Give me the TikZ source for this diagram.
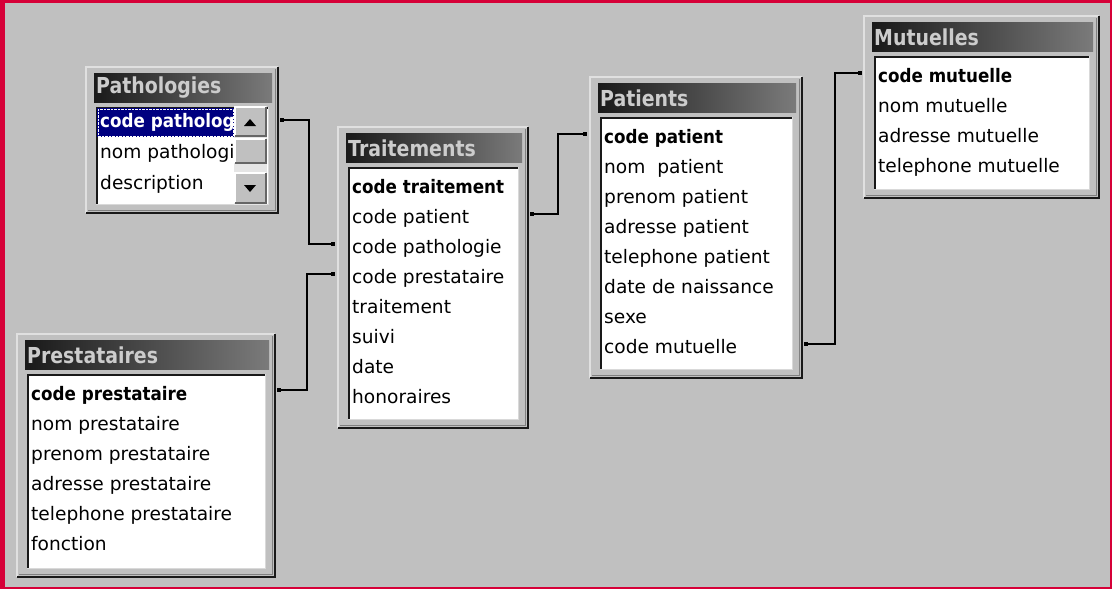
\documentclass[tikz,border=0pt]{standalone}
\usepackage{fontspec}
\setmainfont{DejaVu Sans}
\newfontfamily\keyfont{DejaVu Sans}[FakeStretch=0.9]
\newfontfamily\titlefont{DejaVu Sans}[FakeStretch=0.86]
\usepackage{tikz}
\usetikzlibrary{calc,arrows.meta}
\definecolor{winface}{RGB}{192,192,192}
\definecolor{winred}{RGB}{214,0,56}
\definecolor{winnavy}{RGB}{0,0,128}
\definecolor{titlegrey}{RGB}{204,204,204}
\tikzset{
	field/.style={anchor=west, inner sep=0pt, font=\fontsize{18.6}{22}\selectfont, text height=14pt, text depth=4.5pt},
	keyfield/.style={field, font=\fontsize{18.6}{22}\selectfont\keyfont\bfseries},
	tabletitle/.style={anchor=west, inner sep=0pt, text=titlegrey, font=\fontsize{22}{24}\selectfont\titlefont\bfseries},
	link/.style={line width=1.5pt, {Square[length=4pt,width=4pt]}-{Square[length=4pt,width=4pt]}},
	winbutton/.style={fill=winface},
}
\def\dbtable(#1)(#2,#3)(#4,#5)#6{%
	\fill[winface] (#2,#3) rectangle (#4,#5);
	\draw[line width=2pt, white!88!black] (#2,#5) -- (#2,#3) -- (#4,#3);
	\draw[line width=1pt, black!50] ($(#4,#3)+(-2.5,2)$) -- ($(#4,#5)+(-2.5,-2.5)$) -- ($(#2,#5)+(2,-2.5)$);
	\draw[line width=2pt, black!90] (#4,#3) -- (#4,#5) -- (#2,#5);
	\shade[left color=black!90, right color=black!52] ($(#2,#3)+(8,6)$) rectangle ($(#4,#3)+(-6,35)$);
	\node[tabletitle] (#1) at ($(#2,#3)+(10,21)$) {#6};
	\fill[white] ($(#2,#3)+(10,40)$) rectangle ($(#4,#5)+(-10,-9)$);
	\draw[line width=1pt, white!85!black] ($(#2,#5)+(10,-9)$) -- ($(#4,#5)+(-10,-9)$) -- ($(#4,#3)+(-10,40)$);
	\draw[line width=2pt, black!90] ($(#2,#5)+(11,-9)$) |- ($(#4,#3)+(-10,41)$);
	\coordinate (#1-nw) at (#2,#3);
	\coordinate (#1-se) at (#4,#5);
}

\begin{document}
\begin{tikzpicture}[x=1pt, y=-1pt]
		%%%%% START %%%%%
		
		\useasboundingbox (0,0) rectangle (1112,589);
		\fill[winred] (0,0) rectangle (1112,589);
		\fill[winface] (5,3) rectangle (1110,587);
		
		\dbtable(patho)(86,67)(278,213){Pathologies}
		\dbtable(trait)(338,127)(528,428){Traitements}
		\dbtable(pat)(590,77)(802,378){Patients}
		\dbtable(mut)(864,16)(1099,198){Mutuelles}
		\dbtable(prest)(17,334)(275,577){Prestataires}
		
		% pathologies list with scroll bar
		\begin{scope}
			\clip (97,105) rectangle (234,205);
			\fill[winnavy] (97,108) rectangle (234,137);
			\draw[densely dotted, white] (98,109) rectangle (233,136);
			\node[keyfield, text=white] (patho-0) at (100,123) {code pathologie};
			\foreach \txt [count=\i] in {nom pathologie, description}
				\node[field] (patho-\i) at (100,{123+31*\i}) {\txt};
		\end{scope}
		\fill[black!10] (234,106) rectangle (267,205);
		\foreach \ya/\yb in {107/136, 139/163, 173/203} {
			\fill[winbutton] (235,\ya) rectangle (266,\yb);
			\draw[white, line width=1.5pt] (235,\yb) -- (235,\ya) -- (266,\ya);
			\draw[black!60, line width=1.5pt] (266,\ya) -- (266,\yb) -- (235,\yb);
		}
		\fill (244,126) -- (256,126) -- (250,119) -- cycle;
		\fill (244,185) -- (256,185) -- (250,192) -- cycle;
		
		% fields
		\node[keyfield] (trait-0) at ($(trait-nw)+(14,62)$) {code traitement};
		\foreach \txt [count=\i] in {code patient, code pathologie, code prestataire, traitement, suivi, date, honoraires}
			\node[field] (trait-\i) at ($(trait-nw)+(14,{62+30*\i})$) {\txt};
		
		\node[keyfield] (pat-0) at ($(pat-nw)+(14,62)$) {code patient};
		\foreach \txt [count=\i] in {nom~~patient, prenom patient, adresse patient, telephone patient, date de naissance, sexe, code mutuelle}
			\node[field] (pat-\i) at ($(pat-nw)+(14,{62+30*\i})$) {\txt};
		
		\node[keyfield] (mut-0) at ($(mut-nw)+(14,62)$) {code mutuelle};
		\foreach \txt [count=\i] in {nom mutuelle, adresse mutuelle, telephone mutuelle}
			\node[field] (mut-\i) at ($(mut-nw)+(14,{62+30*\i})$) {\txt};
		
		\node[keyfield] (prest-0) at ($(prest-nw)+(14,62)$) {code prestataire};
		\foreach \txt [count=\i] in {nom prestataire, prenom prestataire, adresse prestataire, telephone prestataire, fonction}
			\node[field] (prest-\i) at ($(prest-nw)+(14,{62+30*\i})$) {\txt};
		
		% relations
		\draw[link] ($(patho-0 -| patho-se)+(2,-3)$) -- ++(29,0) |- ($(trait-2 -| trait-nw)+(-3,-5)$);
		\draw[link] ($(prest-0 -| prest-se)+(2,-6)$) -- ++(30,0) |- ($(trait-3 -| trait-nw)+(-3,-5)$);
		\draw[link] ($(trait-1 -| trait-se)+(2,-5)$) -- ++(28,0) |- ($(pat-0 -| pat-nw)+(-3,-5)$);
		\draw[link] ($(pat-7 -| pat-se)+(2,-5)$) -- ++(31,0) |- ($(mut-0 -| mut-nw)+(-2,-5)$);
		
		%%%%% END %%%%%
	\end{tikzpicture}
\end{document}
